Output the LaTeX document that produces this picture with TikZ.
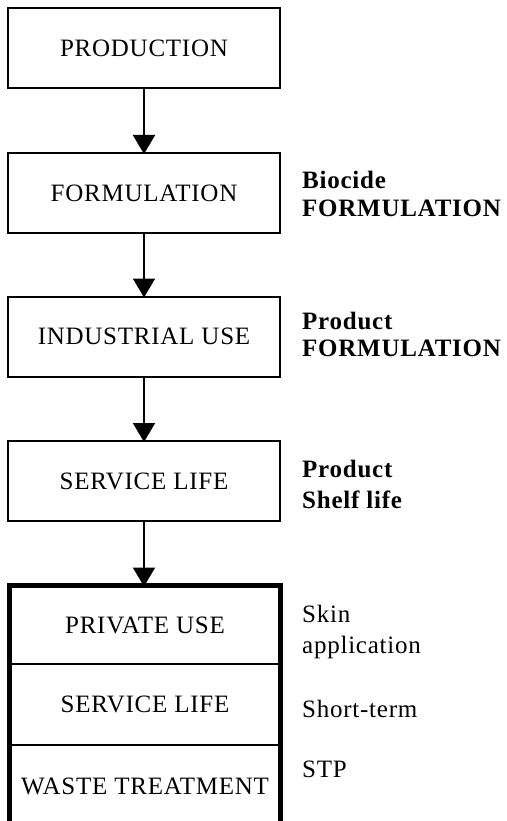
\documentclass[tikz,border=0pt]{standalone}
\usepackage{fontspec}
\setmainfont[LetterSpace=3]{Liberation Serif}
\usetikzlibrary{arrows.meta}
\begin{document}
\begin{tikzpicture}[x=1pt,y=-1pt,
  font=\fontsize{25}{30}\selectfont,
  stagebox/.style={draw, line width=2pt, rectangle, minimum width=272pt, minimum height=80pt,
    inner sep=0pt, outer sep=0pt, text height=16.5pt, text depth=0pt},
  section/.style={rectangle, minimum width=271pt, inner sep=0pt, outer sep=0pt,
    text height=16.5pt, text depth=0pt},
  groupbox/.style={draw, line width=5pt, rectangle, minimum width=271pt, minimum height=241.5pt,
    inner sep=0pt, outer sep=0pt},
  flow/.style={line width=2pt, -{Triangle[width=22pt,length=19pt]}, shorten >=-1pt},
  note/.style={anchor=base west, inner sep=0pt},
  boldnote/.style={note, font=\fontsize{25}{30}\selectfont\bfseries},
  divider/.style={line width=2pt}]
\clip (0,0) rectangle (506,821);
\fill[white] (0,0) rectangle (506,821);

\node[stagebox] (prod) at (144,48) {PRODUCTION};
\node[stagebox] (form) at (144,193) {FORMULATION};
\node[stagebox] (ind) at (144,336.5) {INDUSTRIAL USE};
\node[stagebox] (serv) at (144,481) {SERVICE LIFE};

\node[groupbox] (grp) at (145,706.25) {};
\node[section, minimum height=78.5pt] (priv) at (145,624.75) {PRIVATE USE};
\node[section, minimum height=81pt] (serv2) at (145,704.5) {SERVICE LIFE};
\node[section, minimum height=82pt] (waste) at (145,786) {WASTE TREATMENT};

\draw[divider] (priv.south west) -- (priv.south east);
\draw[divider] (serv2.south west) -- (serv2.south east);

\draw[flow] (prod) -- (form);
\draw[flow] (form) -- (ind);
\draw[flow] (ind) -- (serv);
\draw[flow] (serv.south) -- (serv.south |- grp.north);

\node[boldnote] (l1a) at (302,189) {Biocide};
\node[boldnote] (l1b) at (302,216) {FORMULATION};
\node[boldnote] (l2a) at (302,329) {Product};
\node[boldnote] (l2b) at (302,356) {FORMULATION};
\node[boldnote] (l3a) at (302,477) {Product};
\node[boldnote] (l3b) at (302,508) {Shelf life};
\node[note] (l4a) at (302,622) {Skin};
\node[note] (l4b) at (302,653) {application};
\node[note] (l5) at (302,717) {Short-term};
\node[note] (l6) at (302,777) {STP};
\end{tikzpicture}
\end{document}
